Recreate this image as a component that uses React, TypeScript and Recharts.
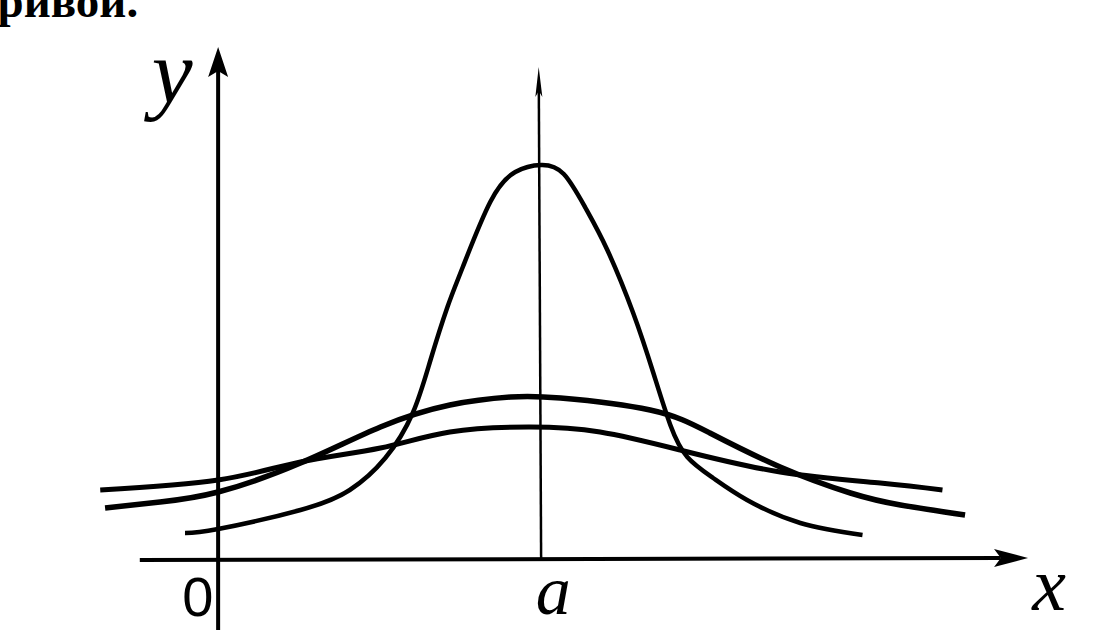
import { ComposedChart, Line, XAxis, YAxis, ReferenceLine, ReferenceDot } from "recharts";

// x in units where the y-axis is 0 and the mean "a" is 4; y in curve height units
const A = 4;

const narrowX = [-0.41, 0, 1.02, 1.63, 2.07, 2.41, 2.63, 2.84, 3.03, 3.37, 3.68, 4.0, 4.28, 4.55, 4.82, 5.14, 5.39, 5.6, 5.81, 6.13, 6.55, 7.21, 7.98];
const narrowY = [0.27, 0.31, 0.5, 0.7, 1.02, 1.47, 2.0, 2.53, 2.93, 3.58, 3.88, 3.95, 3.86, 3.52, 3.1, 2.47, 1.87, 1.35, 1.03, 0.82, 0.6, 0.37, 0.25];

const mediumX = [-1.4, -0.72, 0, 1.02, 2.01, 2.87, 3.62, 4.24, 5.35, 6.09, 6.96, 7.83, 8.45, 9.25];
const mediumY = [0.52, 0.58, 0.68, 0.97, 1.33, 1.55, 1.63, 1.62, 1.5, 1.27, 0.93, 0.67, 0.55, 0.45];

const flatX = [-1.46, 0, 1.02, 2.01, 2.87, 3.86, 4.73, 5.72, 6.96, 8.2, 8.97];
const flatY = [0.7, 0.8, 0.98, 1.12, 1.28, 1.33, 1.28, 1.1, 0.88, 0.77, 0.7];

const toPoints = (xs: number[], ys: number[]) => xs.map((x, i) => ({ x, y: ys[i] }));

const narrow = toPoints(narrowX, narrowY);
const medium = toPoints(mediumX, mediumY);
const flat = toPoints(flatX, flatY);

// line with an arrow head at its second point
function arrow(len: number, half: number, width: number) {
  return (p: any) => {
    const { x1, y1, x2, y2 } = p;
    const dx = x2 - x1;
    const dy = y2 - y1;
    const d = Math.hypot(dx, dy) || 1;
    const ux = dx / d;
    const uy = dy / d;
    const bx = x2 - ux * len;
    const by = y2 - uy * len;
    const nx = -uy;
    const ny = ux;
    const notchX = x2 - ux * len * 0.8;
    const notchY = y2 - uy * len * 0.8;
    const pts = [
      `${x2},${y2}`,
      `${bx + nx * half},${by + ny * half}`,
      `${notchX},${notchY}`,
      `${bx - nx * half},${by - ny * half}`,
    ].join(" ");
    return (
      <g>
        <line x1={x1} y1={y1} x2={notchX} y2={notchY} stroke="#000" strokeWidth={width} />
        <polygon points={pts} fill="#000" />
      </g>
    );
  };
}

function glyph(text: string, style: React.SVGProps<SVGTextElement>) {
  return (p: any) => (
    <text x={p.cx} y={p.cy} textAnchor="middle" fill="#000" {...style}>
      {text}
    </text>
  );
}

const script = { fontFamily: "Liberation Serif", fontStyle: "italic" as const };

export default function App() {
  return (
    <div style={{ position: "absolute", left: 0, top: 0, width: 1120, height: 630, background: "#fff" }}>
      <ComposedChart width={1120} height={630} margin={{ top: 40, right: 54, bottom: 0, left: 97 }}>
        <XAxis type="number" dataKey="x" domain={[-1.5, 10.5]} allowDataOverflow hide />
        <YAxis type="number" dataKey="y" domain={[-0.7, 5.2]} allowDataOverflow hide />

        <ReferenceLine segment={[{ x: -0.97, y: 0 }, { x: 10.03, y: 0.02 }]} ifOverflow="visible" shape={arrow(34, 9, 4)} />
        <ReferenceLine segment={[{ x: 0, y: -0.7 }, { x: 0, y: 5.13 }]} ifOverflow="visible" shape={arrow(30, 10, 4)} />
        <ReferenceLine segment={[{ x: A, y: 0 }, { x: A - 0.03, y: 4.93 }]} ifOverflow="visible" shape={arrow(30, 3.5, 2.5)} />

        <Line data={flat} dataKey="y" type="natural" stroke="#000" strokeWidth={5} dot={false} isAnimationActive={false} />
        <Line data={medium} dataKey="y" type="natural" stroke="#000" strokeWidth={5.5} dot={false} isAnimationActive={false} />
        <Line data={narrow} dataKey="y" type="natural" stroke="#000" strokeWidth={4.5} dot={false} isAnimationActive={false} />

        <ReferenceDot x={-0.57} y={4.57} r={0} ifOverflow="visible" shape={glyph("y", { ...script, fontSize: 92 })} />
        <ReferenceDot x={-0.25} y={-0.56} r={0} ifOverflow="visible" shape={glyph("0", { fontFamily: "Liberation Sans", fontSize: 56 })} />
        <ReferenceDot x={A + 0.15} y={-0.54} r={0} ifOverflow="visible" shape={glyph("a", { ...script, fontSize: 70 })} />
        <ReferenceDot x={10.29} y={-0.5} r={0} ifOverflow="visible" shape={glyph("x", { ...script, fontSize: 76 })} />
        <ReferenceDot
          x={-0.99}
          y={5.43}
          r={0}
          ifOverflow="visible"
          shape={glyph("кривой.", { fontFamily: "Liberation Serif", fontWeight: "bold", fontSize: 47, textAnchor: "end" })}
        />
      </ComposedChart>
    </div>
  );
}
